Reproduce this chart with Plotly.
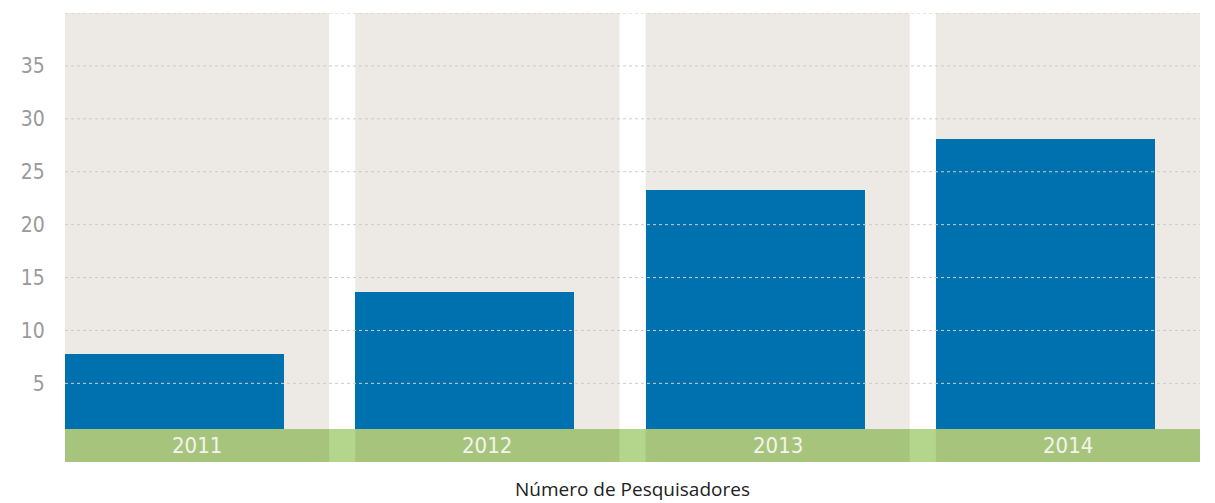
import plotly.graph_objects as go

years = ["2011", "2012", "2013", "2014"]
values = [7.8, 13.6, 23.3, 28.1]
tick_vals = [5, 10, 15, 20, 25, 30, 35]
grid_vals = [5, 10, 15, 20, 25, 30, 35, 40]
title_text = "Número de Pesquisadores"

BAND_HALF = 0.455
BAR_W = 0.755
Y_MIN, Y_MAX = -2.43, 40
STRIP_TOP = 0.69

# page body has an 8px default margin; compensate so the plot lands where the reference has it
FIG_W, FIG_H = 1207, 495
M_L, M_R, M_T, M_B = 57, 15, 5, 41

COND = "DejaVu Sans Condensed, Liberation Sans Narrow, sans-serif"

xs = list(range(len(years)))

fig = go.Figure()
fig.add_trace(go.Bar(
    x=xs, y=values, width=BAR_W, offset=-BAND_HALF,
    marker=dict(color="#0071AF", line=dict(width=0)),
    hoverinfo="x+y", showlegend=False,
))

shapes = []
for i in xs:
    shapes.append(dict(type="rect", xref="x", yref="y", x0=i - BAND_HALF, x1=i + BAND_HALF,
                       y0=Y_MIN, y1=Y_MAX, fillcolor="#EDE9E4", line=dict(width=0), layer="below"))
shapes.append(dict(type="rect", xref="x", yref="y", x0=-BAND_HALF, x1=len(years) - 1 + BAND_HALF,
                   y0=Y_MIN, y1=STRIP_TOP, fillcolor="#B4D68C", line=dict(width=0), layer="above"))
for i in xs:
    shapes.append(dict(type="rect", xref="x", yref="y", x0=i - BAND_HALF, x1=i + BAND_HALF,
                       y0=Y_MIN, y1=STRIP_TOP, fillcolor="#A7C47D", line=dict(width=0), layer="above"))
for g in grid_vals:
    shapes.append(dict(type="line", xref="x", yref="y", x0=-BAND_HALF, x1=len(years) - 1 + BAND_HALF,
                       y0=g, y1=g, line=dict(color="#CCCCCC", width=1, dash="dot"), layer="above"))

annotations = []
for i, yr in zip(xs, years):
    annotations.append(dict(x=i, y=(Y_MIN + STRIP_TOP) / 2, xref="x", yref="y", text=yr, showarrow=False,
                            font=dict(family=COND, size=22, color="#F2F4EC"),
                            xanchor="center", yanchor="middle"))
plot_h = FIG_H - M_T - M_B
title_y_px = 489 - 8
annotations.append(dict(x=0.5, y=(FIG_H - M_B - title_y_px) / plot_h, xref="paper", yref="paper",
                        text=title_text, showarrow=False,
                        font=dict(family="Open Sans, Noto Sans, sans-serif", size=19, color="#222222"),
                        xanchor="center", yanchor="middle"))

fig.update_layout(
    width=FIG_W, height=FIG_H,
    margin=dict(l=M_L, r=M_R, t=M_T, b=M_B, pad=0),
    paper_bgcolor="white", plot_bgcolor="white",
    shapes=shapes,
    annotations=annotations,
    bargap=0,
    xaxis=dict(range=[-BAND_HALF, len(years) - 1 + BAND_HALF], showgrid=False, zeroline=False,
               showticklabels=False, showline=False, fixedrange=True),
    yaxis=dict(range=[Y_MIN, Y_MAX], tickvals=tick_vals, showgrid=False, zeroline=False, showline=False,
               ticks="outside", ticklen=15, tickcolor="rgba(0,0,0,0)",
               tickfont=dict(family=COND, size=21, color="#9A9A9A"),
               fixedrange=True),
)

fig.write_html("out.html")
